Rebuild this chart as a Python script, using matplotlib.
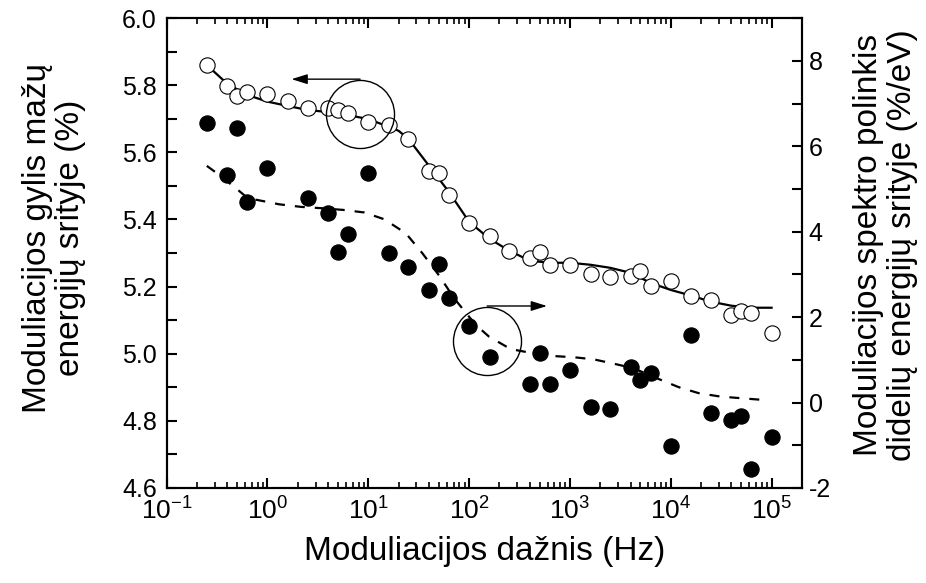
import matplotlib
matplotlib.use("Agg")
import matplotlib.pyplot as plt
from matplotlib.ticker import MultipleLocator, LogLocator, NullFormatter, FormatStrFormatter

plt.rcParams['font.family'] = ['Liberation Sans', 'DejaVu Sans']
plt.rcParams['mathtext.fontset'] = 'custom'
plt.rcParams['mathtext.rm'] = 'Liberation Sans'
plt.rcParams['mathtext.it'] = 'Liberation Sans:italic'
plt.rcParams['mathtext.bf'] = 'Liberation Sans:bold'
plt.rcParams['axes.unicode_minus'] = False

# modulation depth, low-energy region (left axis)
f_depth = [0.25, 0.4, 0.5, 0.63, 1, 1.6, 2.5, 4, 5, 6.3, 10, 16, 25, 40, 50, 63,
           100, 160, 250, 400, 500, 630, 1000, 1600, 2500, 4000, 5000, 6300,
           10000, 16000, 25000, 40000, 50000, 63000, 100000]
depth = [5.860, 5.799, 5.769, 5.781, 5.773, 5.753, 5.733, 5.731, 5.726, 5.718,
         5.689, 5.682, 5.639, 5.545, 5.538, 5.473, 5.389, 5.351, 5.307, 5.285,
         5.304, 5.265, 5.265, 5.238, 5.230, 5.232, 5.245, 5.202, 5.218, 5.173,
         5.159, 5.116, 5.126, 5.121, 5.063]

# fit through the depth data
f_depth_fit = [0.25, 0.4, 0.63, 1, 1.6, 2.5, 4, 6.3, 10, 16, 20, 25, 40, 63, 100,
               160, 250, 400, 630, 1000, 1600, 2500, 4000, 6300, 10000, 16000,
               25000, 40000, 63000, 100000]
depth_fit = [5.860, 5.804, 5.771, 5.751, 5.738, 5.726, 5.720, 5.711, 5.699, 5.676,
             5.664, 5.640, 5.560, 5.482, 5.393, 5.342, 5.307, 5.277, 5.271, 5.271,
             5.265, 5.256, 5.241, 5.211, 5.190, 5.173, 5.155, 5.143, 5.137, 5.137]

# spectrum slope, high-energy region (right axis)
f_slope = [0.25, 0.4, 0.5, 0.63, 1, 2.5, 4, 5, 6.3, 10, 16, 25, 40, 50, 63, 100,
           160, 400, 500, 630, 1000, 1600, 2500, 4000, 5000, 6300, 10000, 16000,
           25000, 40000, 50000, 63000, 100000]
slope = [6.54, 5.33, 6.43, 4.70, 5.48, 4.78, 4.43, 3.53, 3.94, 5.37, 3.49, 3.18,
         2.63, 3.24, 2.45, 1.80, 1.07, 0.44, 1.15, 0.44, 0.75, -0.10, -0.16, 0.84,
         0.53, 0.69, -1.02, 1.57, -0.25, -0.42, -0.31, -1.55, -0.80]

f_slope_fit = [0.25, 0.31, 0.49, 0.64, 0.8, 1.31, 2.16, 3.4, 5.57, 9.1, 14.4, 23.6,
               34.5, 50.5, 71, 116, 158, 259, 440, 670, 1100, 1730, 2830, 4300,
               7600, 12000, 18900, 31000, 50800, 83400]
slope_fit = [5.54, 5.38, 5.01, 4.78, 4.74, 4.64, 4.58, 4.55, 4.51, 4.45, 4.29, 3.96,
             3.49, 2.97, 2.44, 1.82, 1.54, 1.25, 1.15, 1.09, 1.06, 1.01, 0.90, 0.80,
             0.55, 0.36, 0.22, 0.14, 0.10, 0.06]

fig = plt.figure(figsize=(9.26, 5.83), dpi=100)
ax = fig.add_axes([0.180, 0.163, 0.686, 0.806])
ax2 = ax.twinx()

ax.plot(f_depth_fit, depth_fit, '-', color='k', lw=1.6, zorder=2)
ax.plot(f_depth, depth, 'o', ms=11, mfc='white', mec='k', mew=0.8, zorder=3)

ax2.plot(f_slope_fit, slope_fit, color='k', lw=1.6, dashes=(4.5, 4.5), zorder=2)
ax2.plot(f_slope, slope, 'o', ms=11, mfc='k', mec='k', mew=0.8, zorder=3)

# circle-and-arrow markers telling which axis each curve belongs to
ax.plot([8.3], [5.714], 'o', ms=49, mfc='none', mec='k', mew=1.0, zorder=4)
ax.annotate('', xy=(1.73, 5.818), xytext=(8.3, 5.818),
            arrowprops=dict(arrowstyle='-|>,head_length=0.8,head_width=0.25',
                            mutation_scale=12, lw=1.0, color='k',
                            shrinkA=0, shrinkB=0))
ax2.plot([151], [1.44], 'o', ms=49, mfc='none', mec='k', mew=1.0, zorder=4)
ax2.annotate('', xy=(592, 2.26), xytext=(151, 2.26),
             arrowprops=dict(arrowstyle='-|>,head_length=0.8,head_width=0.25',
                             mutation_scale=12, lw=1.0, color='k',
                             shrinkA=0, shrinkB=0))

ax.set_xscale('log')
ax.set_xlim(0.1, 2e5)
ax.set_ylim(4.6, 6.0)
ax2.set_ylim(-2, 9)

ax.xaxis.set_major_locator(LogLocator(base=10, numticks=12))
ax.xaxis.set_minor_locator(LogLocator(base=10, subs=range(2, 10), numticks=12))
ax.xaxis.set_minor_formatter(NullFormatter())
ax.yaxis.set_major_locator(MultipleLocator(0.2))
ax.yaxis.set_minor_locator(MultipleLocator(0.1))
ax.yaxis.set_major_formatter(FormatStrFormatter('%.1f'))
ax2.yaxis.set_major_locator(MultipleLocator(2))
ax2.yaxis.set_minor_locator(MultipleLocator(1))

for a in (ax, ax2):
    for s in a.spines.values():
        s.set_linewidth(1.5)

ax.tick_params(axis='x', which='major', direction='in', length=7, width=1.5,
               top=True, labelsize=19, pad=7)
ax.tick_params(axis='x', which='minor', direction='in', length=4, width=1.2, top=True)
ax.tick_params(axis='y', which='both', direction='in', length=7, width=1.5,
               labelsize=18, pad=7, right=False)
ax2.tick_params(axis='y', which='both', direction='in', length=7, width=1.5,
                labelsize=18, pad=5)

ax.set_xlabel('Moduliacijos dažnis (Hz)', fontsize=24, labelpad=8)
ax.set_ylabel('Moduliacijos gylis mažų\nenergijų srityje (%)', fontsize=24,
              linespacing=1.1)
ax.yaxis.set_label_coords(-0.127, 0.532)
ax2.set_ylabel('Moduliacijos spektro polinkis\ndidelių energijų srityje (%/eV)',
               fontsize=24, linespacing=1.1)
ax2.yaxis.set_label_coords(1.081, 0.517)

fig.savefig('out.png', dpi=100)
